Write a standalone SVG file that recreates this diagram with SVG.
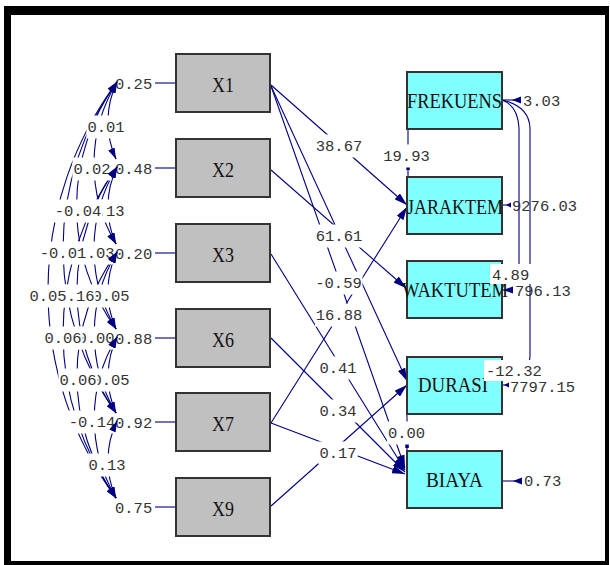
<svg xmlns="http://www.w3.org/2000/svg" width="610" height="565" viewBox="0 0 610 565">
<style>
.frame{fill:#000;fill-rule:evenodd}
.xbox{fill:#c0c0c0;stroke:#333;stroke-width:2}
.ybox{fill:#80ffff;stroke:#333;stroke-width:2}
.nt{font-family:"Liberation Serif",serif;font-size:22px;fill:#111}
.ln{fill:none;stroke:#000080;stroke-width:1.1}
.num{font-family:"Liberation Mono",monospace;font-size:15.5px;fill:#333}
.bg{fill:#fff}
.ah{fill:#000080}
</style>
<defs>
<marker id="arr" markerUnits="userSpaceOnUse" viewBox="0 0 13 8" markerWidth="13" markerHeight="8" refX="13" refY="4" orient="auto"><path d="M0,0 L13,4 L0,8 z" fill="#000080"/></marker>
<marker id="arrs" markerUnits="userSpaceOnUse" viewBox="0 0 11 7" markerWidth="11" markerHeight="7" refX="11" refY="3.5" orient="auto"><path d="M0,0 L11,3.5 L0,7 z" fill="#000080"/></marker>
</defs>
<rect x="0" y="0" width="610" height="565" fill="#fff"/>
<path class="frame" d="M4,6 H609 V565 H4 Z M11,15 H605 V561 H11 Z"/>

<!-- covariance arcs -->
<g id="covariances" class="ln">
<path d="M117,82 A91 91 0 0 0 116,159"/>
<path d="M117,82 A157 157 0 0 0 116,244"/>
<path d="M117,167 A91 91 0 0 0 116,244"/>
<path d="M117,82 A211 211 0 0 0 116,329"/>
<path d="M117,82 A283 283 0 0 0 116,413"/>
<path d="M117,167 A157 157 0 0 0 116,329"/>
<path d="M117,82 A350 350 0 0 0 116,498"/>
<path d="M117,167 A211 211 0 0 0 116,413"/>
<path d="M117,252 A91 91 0 0 0 116,329"/>
<path d="M117,167 A283 283 0 0 0 116,498"/>
<path d="M117,252 A157 157 0 0 0 116,413"/>
<path d="M117,252 A211 211 0 0 0 116,498"/>
<path d="M117,337 A91 91 0 0 0 116,413"/>
<path d="M117,337 A157 157 0 0 0 116,498"/>
<path d="M117,421 A91 91 0 0 0 116,498"/>
</g>

<!-- connectors -->
<g id="connectors" class="ln">
<path d="M155,83 H176"/><path d="M155,168 H176"/><path d="M155,253 H176"/>
<path d="M155,338 H176"/><path d="M155,422 H176"/><path d="M155,507 H176"/>
<path d="M271,85 L407,205" marker-end="url(#arr)"/>
<path d="M271,170 L406,288" marker-end="url(#arr)"/>
<path d="M271,86 L407,381" marker-end="url(#arr)"/>
<path d="M271,86 L405,468" marker-end="url(#arr)"/>
<path d="M271,254 L405,470" marker-end="url(#arr)"/>
<path d="M271,338 L405,472" marker-end="url(#arr)"/>
<path d="M271,423 L407,207" marker-end="url(#arr)"/>
<path d="M271,423 L405,474" marker-end="url(#arr)"/>
<path d="M271,506 L407,385" marker-end="url(#arr)"/>
<path d="M408,129 V177"/>
<path d="M407,413 V451"/>
<path d="M502,100 Q518,106 519,128 V272"/>
<path d="M502,100 Q529,106 530,128 V356 Q530,364 524,368"/>
<path d="M502,100 H521"/>
<path d="M502,205 H509"/>
<path d="M502,290 H513"/>
<path d="M502,385 H508"/>
<path d="M502,481 H522"/>
</g>
<g id="small-heads" class="ah">
<rect x="406.3" y="166" width="3.5" height="4"/>
<rect x="405.3" y="444" width="3.5" height="4"/>
<polygon points="512,100 521,96.5 521,103.5"/>
<polygon points="506,205 511,202.5 511,207.5"/>
<polygon points="503,290 513,286.5 513,293.5"/>
<polygon points="504,385 509,382.5 509,387.5"/>
<polygon points="513,481 522,477.5 522,484.5"/>
</g>

<!-- exogenous nodes -->
<g id="X1"><rect class="xbox" x="176" y="54" width="94" height="58"/><text class="nt" x="212" y="92" textLength="22" lengthAdjust="spacingAndGlyphs">X1</text></g>
<g id="X2"><rect class="xbox" x="176" y="139" width="94" height="58"/><text class="nt" x="212" y="177" textLength="22" lengthAdjust="spacingAndGlyphs">X2</text></g>
<g id="X3"><rect class="xbox" x="176" y="224" width="94" height="58"/><text class="nt" x="212" y="262" textLength="22" lengthAdjust="spacingAndGlyphs">X3</text></g>
<g id="X6"><rect class="xbox" x="176" y="309" width="94" height="58"/><text class="nt" x="212" y="347" textLength="22" lengthAdjust="spacingAndGlyphs">X6</text></g>
<g id="X7"><rect class="xbox" x="176" y="393" width="94" height="58"/><text class="nt" x="212" y="431" textLength="22" lengthAdjust="spacingAndGlyphs">X7</text></g>
<g id="X9"><rect class="xbox" x="176" y="478" width="94" height="58"/><text class="nt" x="212" y="516" textLength="22" lengthAdjust="spacingAndGlyphs">X9</text></g>

<!-- endogenous nodes -->
<g id="FREKUENS"><rect class="ybox" x="407" y="72" width="95" height="57"/><text class="nt" x="407" y="108" textLength="95" lengthAdjust="spacingAndGlyphs">FREKUENS</text></g>
<g id="JARAKTEM"><rect class="ybox" x="407" y="177" width="95" height="57"/><text class="nt" x="407" y="214" textLength="96" lengthAdjust="spacingAndGlyphs">JARAKTEM</text></g>
<g id="WAKTUTEM"><rect class="ybox" x="407" y="261" width="95" height="57"/><text class="nt" x="402" y="297" textLength="106" lengthAdjust="spacingAndGlyphs">WAKTUTEM</text></g>
<g id="DURASI"><rect class="ybox" x="407" y="357" width="95" height="57"/><text class="nt" x="418" y="392" textLength="70" lengthAdjust="spacingAndGlyphs">DURASI</text></g>
<g id="BIAYA"><rect class="ybox" x="407" y="451" width="95" height="57"/><text class="nt" x="426" y="487" textLength="57" lengthAdjust="spacingAndGlyphs">BIAYA</text></g>

<!-- covariance labels -->
<g id="cov-labels" class="num" text-anchor="middle">
<rect class="bg" x="86.4" y="115.5" width="39.2" height="23"/><text x="106" y="132">0.01</text>
<rect class="bg" x="86.4" y="199.5" width="39.2" height="23"/><text x="106" y="216">0.13</text>
<rect class="bg" x="91.4" y="284.5" width="39.2" height="23"/><text x="111" y="301">0.05</text>
<rect class="bg" x="91.4" y="368.5" width="39.2" height="23"/><text x="111" y="385">0.05</text>
<rect class="bg" x="87.4" y="453.5" width="39.2" height="23"/><text x="107" y="470">0.13</text>
<rect class="bg" x="72.4" y="157.5" width="39.2" height="23"/><text x="92" y="174">0.02</text>
<rect class="bg" x="76.4" y="241.5" width="39.2" height="23"/><text x="96" y="258">0.03</text>
<rect class="bg" x="76.4" y="326.5" width="39.2" height="23"/><text x="96" y="343">0.00</text>
<rect class="bg" x="67.8" y="410.5" width="48.5" height="23"/><text x="92" y="427">-0.14</text>
<rect class="bg" x="53.8" y="199.5" width="48.5" height="23"/><text x="78" y="216">-0.04</text>
<rect class="bg" x="56.4" y="284.5" width="39.2" height="23"/><text x="76" y="301">0.16</text>
<rect class="bg" x="58.4" y="368.5" width="39.2" height="23"/><text x="78" y="385">0.06</text>
<rect class="bg" x="38.8" y="241.5" width="48.5" height="23"/><text x="63" y="258">-0.01</text>
<rect class="bg" x="43.4" y="326.5" width="39.2" height="23"/><text x="63" y="343">0.06</text>
<rect class="bg" x="28.4" y="284.5" width="39.2" height="23"/><text x="48" y="301">0.05</text>
</g>

<!-- variance labels -->
<g id="var-labels" class="num">
<text x="115" y="89">0.25</text>
<text x="115" y="174">0.48</text>
<text x="115" y="259">0.20</text>
<text x="115" y="344">0.88</text>
<text x="115" y="428">0.92</text>
<text x="115" y="513">0.75</text>
</g>

<!-- path labels -->
<g id="path-labels" class="num" text-anchor="middle">
<rect class="bg" x="315" y="134.5" width="48" height="23"/><text x="339" y="151">38.67</text>
<rect class="bg" x="382.5" y="144.5" width="48" height="23"/><text x="406.5" y="161">19.93</text>
<rect class="bg" x="315" y="224.5" width="48" height="23"/><text x="339" y="241">61.61</text>
<rect class="bg" x="314.5" y="271.5" width="48" height="23"/><text x="338.5" y="288">-0.59</text>
<rect class="bg" x="315" y="303.5" width="48" height="23"/><text x="339" y="320">16.88</text>
<rect class="bg" x="318.4" y="356.5" width="39.2" height="23"/><text x="338" y="373">0.41</text>
<rect class="bg" x="318.4" y="399.5" width="39.2" height="23"/><text x="338" y="416">0.34</text>
<rect class="bg" x="318.4" y="441.5" width="39.2" height="23"/><text x="338" y="458">0.17</text>
<rect class="bg" x="386.9" y="421.5" width="39.2" height="23"/><text x="406.5" y="438">0.00</text>
</g>

<!-- error labels -->
<g id="error-labels" class="num">
<text x="523" y="106">3.03</text>
<text x="512" y="211">9276.03</text>
<text x="515" y="296">796.13</text>
<text x="510" y="392">7797.15</text>
<text x="524" y="486">0.73</text>
<rect class="bg" x="490" y="264" width="42" height="20"/><text x="492" y="280">4.89</text>
<rect class="bg" x="484" y="360" width="61" height="21"/><text x="486" y="376">-12.32</text>
</g>

<!-- covariance arrowheads -->
<g id="cov-heads" class="ln" marker-end="url(#arrs)">
<path d="M114.9,86.55 L117,82" marker-end="url(#arrs)"/>
<path d="M114.4,86.3 L117,82" marker-end="url(#arrs)"/>
<path d="M114.1,86.1 L117,82" marker-end="url(#arrs)"/>
<path d="M114.1,86.05 L117,82" marker-end="url(#arrs)"/>
<path d="M114,86 L117,82" marker-end="url(#arrs)"/>
<path d="M114.9,171.55 L117,167" marker-end="url(#arrs)"/>
<path d="M114.4,171.3 L117,167" marker-end="url(#arrs)"/>
<path d="M114.1,171.1 L117,167" marker-end="url(#arrs)"/>
<path d="M114.1,171.05 L117,167" marker-end="url(#arrs)"/>
<path d="M114.9,256.55 L117,252" marker-end="url(#arrs)"/>
<path d="M114.4,256.3 L117,252" marker-end="url(#arrs)"/>
<path d="M114.1,256.1 L117,252" marker-end="url(#arrs)"/>
<path d="M114.9,341.55 L117,337" marker-end="url(#arrs)"/>
<path d="M114.4,341.3 L117,337" marker-end="url(#arrs)"/>
<path d="M114.9,425.55 L117,421" marker-end="url(#arrs)"/>
<path d="M113.9,154.45 L116,159" marker-end="url(#arrs)"/>
<path d="M113.4,239.7 L116,244" marker-end="url(#arrs)"/>
<path d="M113.9,239.45 L116,244" marker-end="url(#arrs)"/>
<path d="M113.1,324.9 L116,329" marker-end="url(#arrs)"/>
<path d="M113.4,324.7 L116,329" marker-end="url(#arrs)"/>
<path d="M113.9,324.45 L116,329" marker-end="url(#arrs)"/>
<path d="M113.1,408.95 L116,413" marker-end="url(#arrs)"/>
<path d="M113.1,408.9 L116,413" marker-end="url(#arrs)"/>
<path d="M113.4,408.7 L116,413" marker-end="url(#arrs)"/>
<path d="M113.9,408.45 L116,413" marker-end="url(#arrs)"/>
<path d="M113,494 L116,498" marker-end="url(#arrs)"/>
<path d="M113.1,493.95 L116,498" marker-end="url(#arrs)"/>
<path d="M113.1,493.9 L116,498" marker-end="url(#arrs)"/>
<path d="M113.4,493.7 L116,498" marker-end="url(#arrs)"/>
<path d="M113.9,493.45 L116,498" marker-end="url(#arrs)"/>
</g>
</svg>
